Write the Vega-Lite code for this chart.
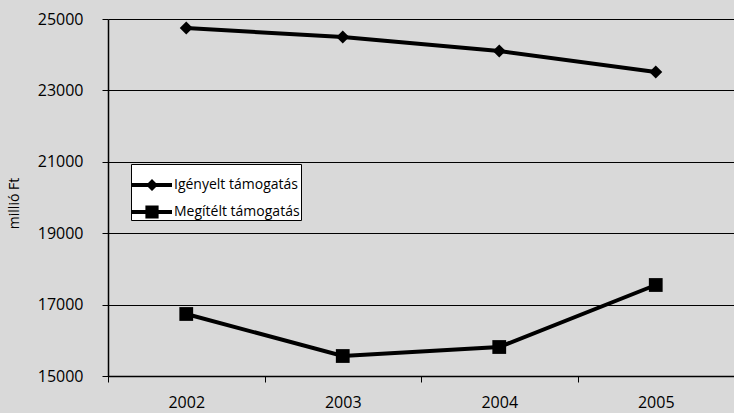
{
  "$schema": "https://vega.github.io/schema/vega-lite/v6.json",
  "width": 626,
  "height": 357,
  "autosize": {"type": "none"},
  "padding": {"left": 108, "top": 19, "right": 0, "bottom": 37},
  "background": "#d9d9d9",
  "config": {
    "view": {"stroke": null, "fill": "#d9d9d9"},
    "font": "Open Sans"
  },
  "data": {"values": [
    {"year": "2002", "series": "Igényelt támogatás", "value": 24748},
    {"year": "2003", "series": "Igényelt támogatás", "value": 24496},
    {"year": "2004", "series": "Igényelt támogatás", "value": 24104},
    {"year": "2005", "series": "Igényelt támogatás", "value": 23515},
    {"year": "2002", "series": "Megítélt támogatás", "value": 16737},
    {"year": "2003", "series": "Megítélt támogatás", "value": 15560},
    {"year": "2004", "series": "Megítélt támogatás", "value": 15812},
    {"year": "2005", "series": "Megítélt támogatás", "value": 17549}
  ]},
  "encoding": {
    "x": {"field": "year", "type": "ordinal", "scale": {"type": "band", "paddingInner": 0, "paddingOuter": 0},
      "axis": {"title": null, "labelAngle": 0, "tickBand": "extent", "tickSize": 6, "labelPadding": 12, "domainWidth": 1.5, "domainColor": "#000", "tickColor": "#000", "grid": false,
        "labelFont": "Open Sans", "labelFontSize": 16, "labelColor": "#000"}},
    "y": {"field": "value", "type": "quantitative", "scale": {"domain": [15000, 25000], "nice": false},
      "axis": {"title": "millió Ft", "values": [15000, 17000, 19000, 21000, 23000, 25000], "format": "d", "tickSize": 6, "labelPadding": 19, "titlePadding": 16, "grid": true, "gridWidth": 1, "gridColor": "#000", "domainWidth": 1.5, "domainColor": "#000", "tickColor": "#000",
        "labelFont": "Open Sans", "labelFontSize": 16, "labelColor": "#000",
        "titleFont": "Open Sans", "titleFontSize": 14, "titleFontWeight": "normal", "titleColor": "#000", "titleY": 184}}
  },
  "layer": [
    {
      "mark": {"type": "line", "color": "#000", "strokeWidth": 4},
      "encoding": {"detail": {"field": "series"}}
    },
    {
      "mark": {"type": "point", "filled": true, "color": "#000", "opacity": 1},
      "encoding": {
        "shape": {"condition": {"test": "datum.series === 'Igényelt támogatás'", "value": "diamond"}, "value": "square"},
        "size": {"condition": {"test": "datum.series === 'Igényelt támogatás'", "value": 169}, "value": 190}
      }
    },
    {
      "mark": {"type": "point", "filled": true, "color": "#000", "opacity": 0, "size": 0},
      "encoding": {
        "shape": {"field": "series", "type": "nominal",
          "scale": {"range": ["M-1,-0.1H1V0.1H-1Z M0,-0.3L0.3,0L0,0.3L-0.3,0Z", "M-1,-0.1H1V0.1H-1Z M-0.33,-0.33H0.33V0.33H-0.33Z"]},
          "legend": {
            "title": null, "orient": "none", "legendX": 23, "legendY": 145,
            "fillColor": "#fff", "strokeColor": "#000", "padding": 1,
            "labelFont": "Open Sans", "labelFontSize": 14, "labelColor": "#000", "labelOffset": 2,
            "symbolSize": 1600, "rowPadding": -11, "symbolFillColor": "#000", "symbolStrokeWidth": 0, "symbolOpacity": 1
          }}
      }
    }
  ]
}
